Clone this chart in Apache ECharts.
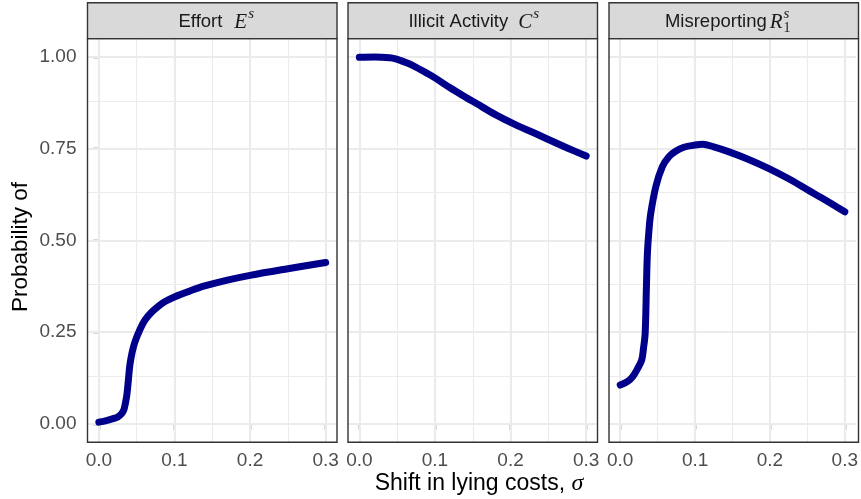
<!DOCTYPE html>
<html>
<head>
<meta charset="utf-8">
<script src="https://cdn.jsdelivr.net/npm/echarts@6/dist/echarts.min.js"></script>
<style>html,body{margin:0;padding:0;background:#fff}#c{width:861px;height:499px}</style>
</head>
<body>
<div id="c"></div>
<script>
// ---- data ----
const xTicks = [0, 0.1, 0.2, 0.3];
const xMinor = [0.05, 0.15, 0.25];
const yTicks = [0, 0.25, 0.5, 0.75, 1];
const yMinor = [0.125, 0.375, 0.625, 0.875];

const sigmaEffort = [0, 0.01, 0.02, 0.025, 0.03, 0.033, 0.035, 0.037, 0.039, 0.041, 0.044, 0.048, 0.055, 0.061, 0.07, 0.08, 0.087, 0.1, 0.12, 0.14, 0.17, 0.2, 0.25, 0.3];
const effort      = [0.005, 0.009, 0.015, 0.019, 0.028, 0.038, 0.055, 0.078, 0.118, 0.16, 0.195, 0.225, 0.26, 0.283, 0.305, 0.323, 0.333, 0.346, 0.362, 0.376, 0.392, 0.405, 0.423, 0.44];

const sigmaIllicit = [0, 0.02, 0.04, 0.048, 0.055, 0.065, 0.075, 0.09, 0.1, 0.12, 0.14, 0.155, 0.18, 0.207, 0.23, 0.25, 0.275, 0.3];
const illicit      = [0.999, 1.0, 0.998, 0.995, 0.99, 0.982, 0.972, 0.955, 0.943, 0.916, 0.891, 0.873, 0.843, 0.815, 0.794, 0.775, 0.752, 0.73];

const sigmaMisrep = [0, 0.01, 0.0167, 0.023, 0.0287, 0.031, 0.0333, 0.035, 0.0363, 0.0385, 0.0408, 0.0476, 0.0563, 0.065, 0.074, 0.085, 0.1, 0.11, 0.125, 0.1445, 0.17, 0.1973, 0.225, 0.2502, 0.275, 0.3];
const misrep      = [0.106, 0.116, 0.129, 0.15, 0.174, 0.205, 0.247, 0.374, 0.465, 0.53, 0.574, 0.647, 0.701, 0.728, 0.743, 0.754, 0.76, 0.762, 0.755, 0.742, 0.722, 0.697, 0.668, 0.638, 0.609, 0.578];

const panelTitles = ['Effort', 'Illicit Activity', 'Misreporting'];
const panelSymbols = ['E', 'C', 'R'];
const panelSup = ['s', 's', 's'];
const panelSub = ['', '', '1'];
const yTitle = 'Probability of';
const xTitleText = 'Shift in lying costs, ';
const xTitleSym = 'σ';

// ---- layout ----
const panelLeft = [87.5, 348, 609];
const panelW = 249.5;
const panelTop = 38.6;
const panelH = 403.7;
const stripTop = 2.7;
const LINE = '#00008B';
const SANS = '"Liberation Sans", Arial, sans-serif';
const SERIF = '"Liberation Serif", "Times New Roman", serif';

const ctx = document.createElement('canvas').getContext('2d');
function tw(t, font) { ctx.font = font; return ctx.measureText(t).width; }

const fMain = '18.5px ' + SANS;
const fSym = 'italic 21px ' + SERIF;
const fSup = 'italic 15px ' + SERIF;
const fSub = '14px ' + SERIF;
const gaps = [12, 10, 3];
const labelOffset = [4, 1, -6];

const grids = [], xAxes = [], yAxes = [], series = [], graphics = [];
const datasets = [
  [sigmaEffort, effort],
  [sigmaIllicit, illicit],
  [sigmaMisrep, misrep]
];

for (let i = 0; i < 3; i++) {
  grids.push({ left: panelLeft[i], top: panelTop, width: panelW, height: panelH, show: true, backgroundColor: '#ffffff', borderWidth: 0 });
  xAxes.push({
    gridIndex: i, type: 'value', min: -0.015, max: 0.315,
    axisLine: { show: false }, splitLine: { show: false },
    axisTick: { show: true, customValues: xTicks, length: 5.6, lineStyle: { color: '#333333', width: 1.4 } },
    axisLabel: { customValues: xTicks, formatter: v => v.toFixed(1), color: '#4D4D4D', fontSize: 19, fontFamily: SANS, margin: 9 }
  });
  yAxes.push({
    gridIndex: i, type: 'value', min: -0.05, max: 1.05,
    axisLine: { show: false }, splitLine: { show: false },
    axisTick: { show: i === 0, customValues: yTicks, length: 5.6, lineStyle: { color: '#333333', width: 1.4 } },
    axisLabel: { show: i === 0, customValues: yTicks, formatter: v => v.toFixed(2), color: '#4D4D4D', fontSize: 19, fontFamily: SANS, margin: 11 }
  });
  const gl = [];
  xMinor.forEach(v => gl.push({ xAxis: v, lineStyle: { color: '#EBEBEB', width: 1.1, type: 'solid' } }));
  yMinor.forEach(v => gl.push({ yAxis: v, lineStyle: { color: '#EBEBEB', width: 1.1, type: 'solid' } }));
  xTicks.forEach(v => gl.push({ xAxis: v, lineStyle: { color: '#EBEBEB', width: 2.1, type: 'solid' } }));
  yTicks.forEach(v => gl.push({ yAxis: v, lineStyle: { color: '#EBEBEB', width: 2.1, type: 'solid' } }));
  const [xs, ys] = datasets[i];
  series.push({
    type: 'line', xAxisIndex: i, yAxisIndex: i, z: 3,
    data: xs.map((x, k) => [x, ys[k]]),
    showSymbol: false, symbol: 'none', smooth: 0.35, animation: false,
    lineStyle: { color: LINE, width: 7, cap: 'round', join: 'round' },
    markLine: { silent: true, z: 1, symbol: ['none', 'none'], label: { show: false }, animation: false, data: gl }
  });

  graphics.push({ type: 'rect', shape: { x: panelLeft[i], y: stripTop, width: panelW, height: panelTop - stripTop }, style: { fill: '#D9D9D9', stroke: '#333333', lineWidth: 1.4 }, z: 10 });
  graphics.push({ type: 'rect', shape: { x: panelLeft[i], y: panelTop, width: panelW, height: panelH }, style: { fill: null, stroke: '#333333', lineWidth: 1.4 }, z: 20 });

  const w1 = tw(panelTitles[i], fMain), w2 = tw(panelSymbols[i], fSym);
  const w3 = Math.max(tw(panelSup[i], fSup), tw(panelSub[i], fSub));
  const total = w1 + gaps[i] + w2 + 1 + w3;
  const x0 = panelLeft[i] + panelW / 2 - total / 2 + labelOffset[i];
  const cy = 21.5;
  graphics.push({ type: 'text', x: x0, y: cy, z: 30, style: { text: panelTitles[i], font: fMain, fill: '#1A1A1A', align: 'left', verticalAlign: 'middle' } });
  graphics.push({ type: 'text', x: x0 + w1 + gaps[i], y: cy + 0.5, z: 30, style: { text: panelSymbols[i], font: fSym, fill: '#1A1A1A', align: 'left', verticalAlign: 'middle' } });
  graphics.push({ type: 'text', x: x0 + w1 + gaps[i] + w2 + 1, y: 14.5, z: 30, style: { text: panelSup[i], font: fSup, fill: '#1A1A1A', align: 'left', verticalAlign: 'middle' } });
  if (panelSub[i]) {
    graphics.push({ type: 'text', x: x0 + w1 + gaps[i] + w2 + 1, y: 28, z: 30, style: { text: panelSub[i], font: fSub, fill: '#1A1A1A', align: 'left', verticalAlign: 'middle' } });
  }
}

graphics.push({ type: 'text', x: 21, y: 247, rotation: Math.PI / 2, z: 30,
  style: { text: yTitle, font: '22.5px ' + SANS, fill: '#000000', align: 'center', verticalAlign: 'middle' } });
graphics.push({ type: 'text', x: 479, y: 484, z: 30,
  style: { text: '{a|' + xTitleText + '}{b|' + xTitleSym + '}', align: 'center', verticalAlign: 'middle',
    rich: { a: { font: '23px ' + SANS, fill: '#000000' }, b: { font: 'italic 24px ' + SERIF, fill: '#000000' } } } });

const chart = echarts.init(document.getElementById('c'), null, { renderer: 'canvas' });
chart.setOption({
  animation: false,
  backgroundColor: '#ffffff',
  grid: grids, xAxis: xAxes, yAxis: yAxes, series: series, graphic: graphics
});
</script>
</body>
</html>
